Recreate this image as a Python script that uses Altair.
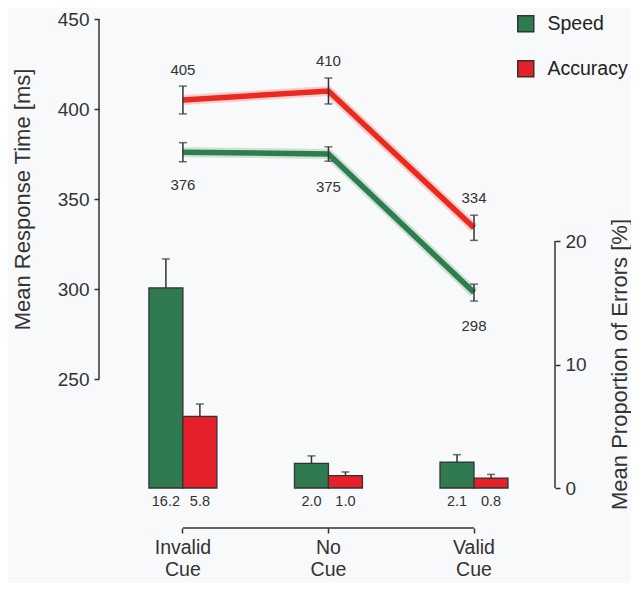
import altair as alt
import pandas as pd

# ---- data ----
cues = ["Invalid Cue", "No Cue", "Valid Cue"]
conditions = ["Speed", "Accuracy"]

rt_speed = [376, 375, 298]
rt_speed_se = [5.3, 4.0, 4.7]
rt_acc = [405, 410, 334]
rt_acc_se = [7.7, 7.2, 7.0]

err_speed = [16.2, 2.0, 2.1]
err_speed_se = [2.35, 0.6, 0.6]
err_acc = [5.8, 1.0, 0.8]
err_acc_se = [1.0, 0.3, 0.3]

rt_ticks = [250, 300, 350, 400, 450]
err_ticks = [0, 10, 20]

bar_colors = ["#2f7a50", "#e6202a"]
line_colors = ["#2e7d4c", "#ea2a1e"]
label_dy = [33, -30]
ink = "#333333"
FONT = "Liberation Sans"

rows = []
for i, c in enumerate(cues):
    for cond, rt, rse, er, ese in [
        ("Speed", rt_speed[i], rt_speed_se[i], err_speed[i], err_speed_se[i]),
        ("Accuracy", rt_acc[i], rt_acc_se[i], err_acc[i], err_acc_se[i]),
    ]:
        rows.append(dict(cue=c, cond=cond, rt=rt, rt_lo=rt - rse, rt_hi=rt + rse,
                         err=er, err_hi=er + ese, rt_lab=str(rt), err_lab=f"{er:.1f}"))
df = pd.DataFrame(rows)

left_axis_df = pd.DataFrame({"lo": [min(rt_ticks)], "hi": [max(rt_ticks)]})
right_axis_df = pd.DataFrame({"lo": [min(err_ticks)], "hi": [max(err_ticks)]})
x_axis_df = pd.DataFrame({"start": [cues[0]], "end": [cues[-1]]})

W, H = 456, 509

xscale = alt.Scale(domain=cues, paddingInner=0.533, paddingOuter=0.333, align=0.515)
xaxis = alt.Axis(orient="bottom", domain=False, grid=False, tickSize=5, tickWidth=1.5,
                 tickColor=ink, labelExpr="split(datum.label, ' ')", labelFontSize=19.5,
                 labelLineHeight=22, labelPadding=5, labelBaseline="top",
                 labelColor=ink, labelAngle=0, title=None)
X = alt.X("cue:N", scale=xscale, axis=xaxis, sort=cues)
XO = alt.XOffset("cond:N", scale=alt.Scale(domain=conditions, paddingInner=0, paddingOuter=0),
                 sort=conditions)

rt_scale = alt.Scale(domain=[450 - H / 1.8, 450], nice=False, zero=False)
err_scale = alt.Scale(domain=[-40 / 12.35, 20 + 222 / 12.35], nice=False, zero=False)

left_axis = alt.Axis(orient="left", values=rt_ticks, domain=False, grid=False, tickSize=5,
                     tickWidth=1.5, tickColor=ink, labelFontSize=19, labelPadding=5,
                     labelColor=ink, title="Mean Response Time [ms]", titleFontSize=22,
                     titleFontWeight="normal", titleColor=ink, titleX=-77, titleY=180,
                     titleAngle=270, titleAlign="center", titleBaseline="middle")
right_axis = alt.Axis(orient="right", values=err_ticks, domain=False, grid=False, tickSize=5,
                      tickWidth=1.5, tickColor=ink, labelFontSize=19, labelPadding=5,
                      labelColor=ink, title="Mean Proportion of Errors [%]", titleFontSize=22,
                      titleFontWeight="normal", titleColor=ink, titleX=64, titleY=345,
                      titleAngle=270, titleAlign="center", titleBaseline="middle")

base = alt.Chart(df)
YRT = lambda f: alt.Y(f, scale=rt_scale, axis=left_axis)

# ---- response-time group ----
rt_layers = []
for cond, col, dy in zip(conditions, line_colors, label_dy):
    sub = base.transform_filter(alt.datum.cond == cond)
    rt_layers.append(sub.mark_line(strokeWidth=10, opacity=0.2, color=col).encode(x=X, y=YRT("rt:Q")))
    rt_layers.append(sub.mark_line(strokeWidth=5.5, color=col).encode(x=X, y=YRT("rt:Q")))
    rt_layers.append(sub.mark_text(dy=dy, fontSize=15, color=ink, font=FONT).encode(
        x=X, y=YRT("rt:Q"), text="rt_lab:N"))
rt_layers.append(base.mark_rule(color=ink, strokeWidth=1.5).encode(
    x=X, y=YRT("rt_lo:Q"), y2="rt_hi:Q"))
rt_layers.append(base.mark_tick(color=ink, size=8, thickness=1.5).encode(x=X, y=YRT("rt_lo:Q")))
rt_layers.append(base.mark_tick(color=ink, size=8, thickness=1.5).encode(x=X, y=YRT("rt_hi:Q")))
rt_layers.append(alt.Chart(left_axis_df).mark_rule(color=ink, strokeWidth=1.5).encode(
    x=alt.value(0), y=YRT("lo:Q"), y2="hi:Q"))

rt_group = alt.layer(*rt_layers)

# ---- error group ----
YE = lambda f: alt.Y(f, scale=err_scale, axis=right_axis)
fill_enc = alt.Fill("cond:N", scale=alt.Scale(domain=conditions, range=bar_colors),
                    sort=conditions,
                    legend=alt.Legend(orient="none", legendX=417, legendY=-5, title=None,
                                      symbolType="square", symbolSize=256,
                                      symbolStrokeColor=ink, symbolStrokeWidth=1.5,
                                      labelFontSize=19.5, labelOffset=12, rowPadding=22,
                                      padding=0, labelColor="#222222", labelFont=FONT))
bars = base.mark_bar(stroke=ink, strokeWidth=1.3).encode(
    x=X, xOffset=XO, y=YE("err:Q"), y2=alt.datum(0), fill=fill_enc)
err_rule = base.mark_rule(color=ink, strokeWidth=1.5).encode(
    x=X, xOffset=XO, y=YE("err:Q"), y2="err_hi:Q")
err_cap = base.mark_tick(color=ink, size=8, thickness=1.5).encode(
    x=X, xOffset=XO, y=YE("err_hi:Q"))
err_text = base.mark_text(dy=14, fontSize=14.5, color=ink, font=FONT).encode(
    x=X, xOffset=XO, y=alt.Y(datum=0, scale=err_scale, axis=right_axis), text="err_lab:N")
right_line = alt.Chart(right_axis_df).mark_rule(color=ink, strokeWidth=1.5).encode(
    x=alt.value(W), y=YE("lo:Q"), y2="hi:Q")
x_line = alt.Chart(x_axis_df).mark_rule(color=ink, strokeWidth=1.5).encode(
    x=alt.X("start:N", scale=xscale, axis=xaxis, bandPosition=0.5, sort=cues),
    x2=alt.X2("end:N", bandPosition=0.5), y=alt.value(H))

err_group = alt.layer(bars, err_rule, err_cap, err_text, right_line, x_line)

chart = alt.layer(rt_group, err_group).resolve_scale(y="independent").properties(
    width=W, height=H,
    autosize=alt.AutoSizeParams(type="none"),
    padding={"left": 91, "top": 11, "right": 76, "bottom": 55},
    background="#f8f9fb",
).configure_view(stroke=None).configure_axis(labelFont=FONT, titleFont=FONT).configure_legend(
    labelFont=FONT).configure_text(font=FONT)

chart.save("out.html", embed_options={"renderer": "svg", "actions": False})
